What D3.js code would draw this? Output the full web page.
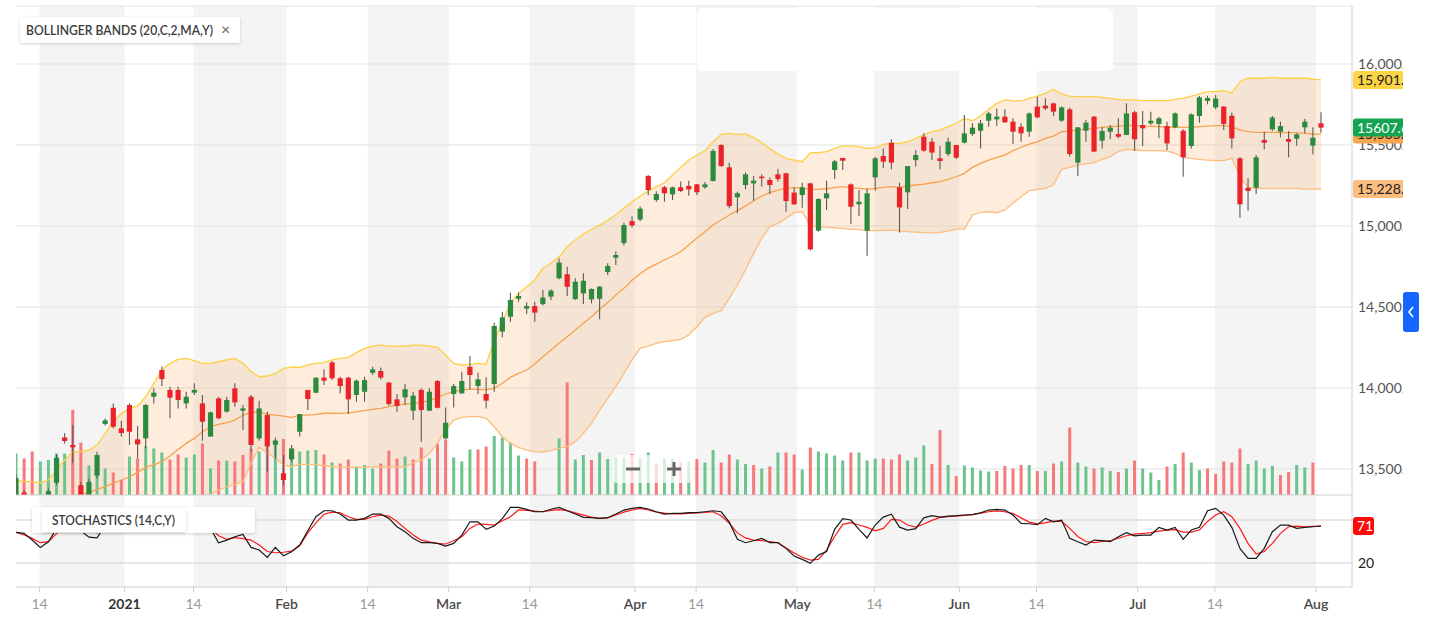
<!DOCTYPE html>
<html><head><meta charset="utf-8">
<script src="https://cdn.jsdelivr.net/npm/d3@7"></script>
<style>body{margin:0;background:#fff;}svg{display:block;font-family:Lato,"Open Sans",sans-serif;}</style>
</head><body><svg id="c" width="1429" height="620"></svg>
<script>
// ---------- DATA ----------
const startDate = "2020-12-09";
const holidays = ["2020-12-24","2020-12-25","2020-12-31","2021-01-01","2021-04-02","2021-04-05","2021-05-24"];

const open = [13300,13355,13280,13150,13250,13415,13695,13648,13400,13250,
13459,13778,13878,13751,13895,13683,13689,13946,14111,13988,
13988,13905,13971,13905,13700,13936,13854,13998,13860,13946,
13689,13833,13650,13473,13560,13730,13988,13971,14064,14158,
14060,14064,13957,13977,14094,14105,14033,13930,13942,13860,
13988,13860,14043,13689,13963,13967,14131,14012,13963,14025,
14348,14440,14551,14490,14506,14518,14564,14677,14702,14549,
14584,14547,14551,14716,14804,14895,15030,15040,15309,15160,
15239,15195,15239,15247,15257,15239,15278,15500,15362,15177,
15253,15263,15305,15284,15319,15325,15206,15191,15263,14971,
15171,15346,15420,15257,15134,14971,15300,15432,15514,15239,
15208,15407,15551,15520,15418,15444,15500,15514,15568,15588,
15650,15658,15675,15644,15613,15582,15737,15743,15757,15650,
15720,15391,15588,15675,15527,15582,15568,15562,15702,15623,
15634,15630,15617,15609,15588,15494,15679,15772,15732,15737,
15681,15418,15236,15236,15531,15597,15582,15537,15539,15609,
15496,15634];
const high = [13470,13370,13300,13260,13380,13590,13720,13771,13420,13440,
13607,13812,13905,13798,13905,13765,13901,13998,14132,14008,
14008,13977,14029,13957,13854,13946,13946,14029,13895,13957,
13922,13854,13695,13586,13648,13839,13988,14064,14115,14166,
14070,14070,14053,14070,14131,14127,14039,13963,14025,13977,
13998,13998,14049,13880,14025,14101,14197,14094,14066,14403,
14471,14588,14590,14529,14533,14605,14609,14800,14749,14677,
14708,14615,14630,14770,14842,15020,15060,15120,15315,15215,
15247,15243,15274,15280,15259,15271,15475,15504,15391,15212,
15331,15309,15319,15300,15354,15329,15239,15267,15267,15171,
15280,15407,15420,15263,15222,15232,15428,15479,15535,15267,
15370,15469,15572,15541,15494,15547,15500,15685,15634,15654,
15706,15726,15720,15665,15634,15700,15798,15788,15761,15737,
15732,15609,15654,15679,15609,15623,15665,15757,15712,15710,
15706,15675,15644,15700,15597,15695,15802,15804,15809,15741,
15700,15424,15294,15438,15582,15679,15644,15586,15572,15660,
15609,15702];
const low = [13285,13220,13090,13120,13230,13400,13658,13535,13130,13230,
13442,13768,13751,13700,13648,13566,13627,13905,14012,13813,
13874,13874,13957,13675,13700,13807,13848,13885,13741,13607,
13675,13483,13560,13401,13545,13700,13864,13967,14018,14050,
13967,13839,13915,13915,14080,14053,13891,13854,13895,13802,
13668,13858,13874,13683,13880,13963,13992,13963,13874,13977,
14313,14409,14533,14457,14409,14510,14543,14671,14568,14543,
14518,14523,14424,14697,14759,14880,14990,15030,15190,15150,
15150,15160,15210,15187,15191,15230,15274,15366,15109,15078,
15226,15156,15243,15197,15274,15088,15129,15113,14848,14965,
15099,15290,15346,15012,15062,14817,15218,15356,15350,14959,
15105,15366,15459,15407,15350,15432,15413,15510,15555,15479,
15613,15617,15638,15506,15520,15551,15665,15716,15679,15644,
15428,15309,15520,15459,15479,15535,15541,15562,15465,15494,
15623,15541,15469,15603,15304,15479,15638,15751,15720,15593,
15479,15051,15094,15197,15473,15588,15547,15424,15496,15572,
15442,15576];
const close = [13445,13296,13114,13223,13363,13570,13673,13634,13246,13420,
13586,13800,13761,13722,13730,13652,13895,13971,14055,13940,
13926,13946,13988,13792,13850,13813,13926,13911,13874,13648,
13874,13640,13675,13432,13627,13839,13932,14064,14045,14060,
14012,13930,14045,14049,14115,14064,13901,13889,13992,13953,
13864,13977,13878,13786,14012,14043,14080,14053,13922,14383,
14436,14543,14568,14506,14465,14558,14601,14774,14625,14656,
14662,14611,14625,14753,14821,15006,15003,15107,15222,15198,
15202,15239,15216,15226,15208,15257,15463,15370,15123,15202,
15319,15280,15296,15253,15290,15154,15134,15239,14856,15167,
15202,15399,15403,15119,15150,15202,15418,15397,15391,15115,
15370,15438,15465,15453,15401,15520,15422,15572,15607,15634,
15695,15675,15640,15582,15572,15695,15671,15726,15706,15732,
15444,15609,15638,15459,15586,15607,15551,15695,15535,15603,
15650,15665,15510,15695,15424,15689,15794,15790,15787,15630,
15541,15134,15216,15424,15514,15669,15617,15520,15566,15644,
15545,15607.6];
const volume = [83,73,87,67,70,83,83,170,105,59,
80,53,45,30,77,73,98,93,85,71,
81,75,81,103,53,69,69,67,80,93,
87,113,110,112,87,87,89,90,81,65,
63,71,57,60,53,63,89,73,77,71,
95,73,103,111,75,67,91,91,97,118,
115,105,79,73,67,0,0,113,225,71,
80,70,85,72,75,75,82,73,85,63,
73,73,65,67,72,65,90,65,81,71,
62,60,53,57,85,85,81,51,95,87,
83,79,69,85,85,69,73,73,71,81,
69,75,99,62,130,60,38,59,55,49,
47,48,58,53,60,60,48,48,63,67,
135,65,57,53,55,48,46,53,69,53,
45,30,57,62,85,65,50,53,42,67,
65,93,62,69,53,58,40,46,60,55,
65,0];
const bbUpper = [13428,13425,13420,13415,13432,13494,13555,13607,13607,13617,
13648,13720,13792,13844,13874,13889,13946,14029,14111,14152,
14177,14183,14169,14152,14152,14162,14173,14183,14152,14101,
14070,14074,14090,14121,14128,14128,14142,14152,14156,14173,
14183,14189,14218,14245,14259,14265,14259,14259,14259,14265,
14265,14259,14251,14204,14152,14142,14146,14152,14148,14290,
14410,14525,14584,14625,14667,14739,14770,14810,14872,14913,
14950,14980,15005,15035,15070,15110,15150,15185,15215,15243,
15267,15315,15362,15407,15438,15465,15520,15566,15572,15566,
15568,15547,15514,15479,15444,15418,15407,15397,15453,15453,
15459,15479,15494,15494,15490,15479,15483,15504,15510,15510,
15520,15541,15562,15582,15592,15613,15634,15664,15650,15679,
15720,15757,15778,15774,15772,15788,15802,15819,15844,15815,
15802,15798,15798,15798,15794,15788,15782,15778,15778,15774,
15774,15774,15774,15782,15788,15802,15815,15829,15829,15835,
15823,15891,15912,15912,15912,15918,15912,15912,15912,15912,
15907,15901.9];
const bbMiddle = [13200,13210,13215,13220,13230,13260,13290,13330,13345,13354,
13374,13391,13411,13432,13452,13479,13510,13525,13545,13580,
13621,13658,13689,13730,13761,13776,13786,13802,13833,13848,
13854,13839,13833,13827,13819,13833,13833,13837,13844,13844,
13843,13847,13852,13860,13868,13874,13885,13895,13901,13905,
13911,13922,13942,13963,13977,13988,13992,13992,13988,13998,
14029,14066,14090,14111,14148,14193,14234,14276,14317,14358,
14399,14440,14486,14527,14574,14615,14665,14705,14740,14765,
14790,14815,14841,14883,14924,14965,15006,15037,15068,15095,
15123,15156,15185,15206,15222,15232,15239,15232,15226,15226,
15230,15237,15243,15237,15232,15228,15232,15239,15243,15239,
15247,15253,15259,15267,15274,15288,15304,15325,15362,15387,
15407,15424,15438,15465,15486,15506,15520,15541,15555,15582,
15586,15592,15599,15603,15609,15613,15617,15621,15621,15617,
15615,15613,15611,15609,15609,15609,15613,15617,15619,15619,
15613,15592,15582,15578,15578,15578,15576,15576,15576,15572,
15568,15565.3];
const bbLower = [12980,12990,12995,13000,13010,13020,13025,13030,13060,13080,
13090,13080,13070,13060,13050,13060,13070,13060,13050,13060,
13100,13160,13230,13310,13345,13370,13391,13405,13422,13535,
13634,13597,13566,13525,13514,13529,13529,13525,13520,13514,
13512,13510,13510,13510,13514,13514,13514,13514,13514,13539,
13555,13597,13658,13741,13802,13819,13823,13823,13813,13761,
13699,13658,13633,13617,13607,13605,13613,13627,13638,13669,
13720,13782,13864,13936,14008,14090,14173,14245,14259,14276,
14286,14292,14300,14327,14378,14436,14461,14477,14553,14636,
14728,14831,14924,14996,15016,15047,15082,15088,15000,14996,
14992,14988,14984,14981,14978,14971,14971,14973,14975,14970,
14965,14962,14959,14958,14959,14970,14981,14981,15068,15084,
15088,15082,15099,15140,15181,15218,15226,15232,15253,15350,
15362,15376,15383,15391,15411,15428,15459,15473,15469,15465,
15465,15465,15463,15449,15424,15418,15411,15407,15403,15403,
15418,15304,15239,15232,15232,15232,15232,15232,15232,15228,
15228,15228.4];
const stochK = [62.8,61.4,52,41.8,49.7,68,80,78,65,56,
55,72,82,80,78,72,80,88,92,85,
80,78,80,68,68,48.3,52,56.6,60,41.8,
38.1,27.9,41.8,30.1,35.7,45,65,84.5,92.9,92.9,
88.3,79.9,79.9,82.3,88.3,88.3,82.3,70.6,63.6,54.4,
48.3,48.3,47.4,43.7,47.4,59,77.5,77.5,66.9,71.5,
82,97.6,97.6,94.8,91.5,91.5,95,97.6,92.9,88.3,
83.7,83.2,82.3,83.2,88.3,93.9,96.2,97.6,95.3,91.5,
88.3,89.2,89.2,90.2,90.2,91.5,92.9,91.5,77,53,
48.3,51.1,54.4,48.3,48.3,40.4,29.7,25,19.5,31,
36,67,82,80,67,55,73,84,88,70,
66,68,83,86,84,85.5,86,87,87.5,90,
93.9,94.8,93.9,86.9,75.3,74.8,73.4,82.3,77.5,79.9,
54.4,49.7,45,52,51.1,49.7,56.6,62.2,58,59,
59,69.7,66,69.7,53,66,69.7,92.9,96.2,86.9,
69.7,40.4,26.5,26.5,40.4,63.6,72.9,72.9,68.3,69.7,
70.6,71.6];
const stochD = [62.8,59,54.4,48.3,49.7,61,70,76,74,66,
62,66,72,78,80,77,77,80,87,88,
86,81,79,75,68,58,53,55.3,54,52,
45,36,34.3,35,36.5,44,62,76,88,91,
90.1,84.5,80.8,80.8,84.5,86.9,85.5,78,68.3,59,
52,49.5,47.4,46.5,51,56.6,68.3,74.3,73.9,72.9,
79,84.5,94,93.5,92.5,91.5,93.5,94.5,93,90,
86.9,84,82.3,83,86.9,91,94,96.2,94,91,
89.5,88.5,88.5,89.2,89.8,90.5,91.5,86,75.3,62,
55,52,51.1,50,48.3,41,34,28,24.1,25,
38,57,74,76.2,73,69.7,65,68.3,80.8,79.9,
73,70,74.5,79.5,83.7,84.5,85.5,86.5,87.5,89.5,
91.5,92.8,91.5,89,83,77,74.5,76,78.5,78,
68.3,57,50,48.5,50,51.1,54.5,58,60.4,61.2,
62.5,64.5,66,66.5,63.2,63.2,66,78,87,91.5,
84.5,68.3,47.4,32.5,36,47.4,61.4,70.6,71.5,70.6,
71,71.5];

const priceTicks = [13500,14000,14500,15000,15500,16000];
const stochLevels = [20,80];
const stochLabels = [20];
const xTickLabels = ["14","2021","14","Feb","14","Mar","14","Apr","14","May","14","Jun","14","Jul","14","Aug"];
const xTickDates = ["2020-12-14","2021-01-01","2021-01-14","2021-02-01","2021-02-14","2021-03-01","2021-03-14","2021-04-01","2021-04-14","2021-05-01","2021-05-14","2021-06-01","2021-06-14","2021-07-01","2021-07-14","2021-08-01"];
const badgeTexts = {upper:"15,901.93", middle:"15,565.30", last:"15607.6", lower:"15,228.41", stoch:"71"};
const legendMain = "BOLLINGER BANDS (20,C,2,MA,Y)";
const legendStoch = "STOCHASTICS (14,C,Y)";

// ---------- LAYOUT ----------
const W=1429, H=620, L=16, R=1352, T=6, MB=495, SB=587, CLIPX=1403;
const n = close.length;

// trading dates
const dates=[]; {let d=new Date(startDate+"T00:00:00Z");
 while(dates.length<n){const iso=d.toISOString().slice(0,10);const w=d.getUTCDay();
  if(w!==0&&w!==6&&!holidays.includes(iso)) dates.push(iso); d=new Date(d.getTime()+86400000);}}

const svg=d3.select("#c");
const x=d3.scaleLinear().domain([0,n-1]).range([16,1321]);
const y=d3.scaleLinear().domain([13500,16000]).range([469,64]);
const yv=d3.scaleLinear().domain([0,250]).range([MB,370]);
const ys=d3.scaleLinear().domain([20,80]).range([563,520]);

const defs=svg.append("defs");
defs.append("clipPath").attr("id","cm").append("rect").attr("x",L).attr("y",T).attr("width",R-L).attr("height",MB-T);
defs.append("clipPath").attr("id","cs").append("rect").attr("x",L).attr("y",MB).attr("width",R-L).attr("height",SB-MB);
defs.append("clipPath").attr("id","cr").append("rect").attr("x",R).attr("y",0).attr("width",CLIPX-R).attr("height",H);
const f=defs.append("filter").attr("id","sh").attr("x","-10%").attr("y","-40%").attr("width","120%").attr("height","180%");
f.append("feDropShadow").attr("dx",0).attr("dy",1).attr("stdDeviation",1.6).attr("flood-color","#000").attr("flood-opacity",0.18);

svg.append("rect").attr("width",W).attr("height",H).attr("fill","#fff");

// tick positions
const tickX = xTickDates.map(td=>{const idx=dates.findIndex(d=>d>=td);
  const exact = dates[idx]===td && td.endsWith("-14");
  return x(idx + (exact?-0.1:-0.62));});

// stripes
for(let k=0;k+1<tickX.length;k+=2){
  svg.append("rect").attr("x",tickX[k]).attr("y",T).attr("width",tickX[k+1]-tickX[k]).attr("height",SB-T).attr("fill","#f4f4f4");
}
// gridlines
svg.append("line").attr("x1",L).attr("x2",R).attr("y1",T).attr("y2",T).attr("stroke","#e4e4e4");
svg.selectAll(".g").data(priceTicks).join("line").attr("x1",L).attr("x2",R)
  .attr("y1",d=>y(d)).attr("y2",d=>y(d)).attr("stroke","#e2e2e2");
// redacted blank area at top
svg.append("rect").attr("x",697).attr("y",8).attr("width",416).attr("height",63).attr("rx",6).attr("fill","#fff");

// main panel
const gm=svg.append("g").attr("clip-path","url(#cm)");
gm.append("path").datum(d3.range(n)).attr("fill","#f8a14e").attr("fill-opacity",0.2)
  .attr("d",d3.area().x(i=>x(i)).y0(i=>y(bbLower[i])).y1(i=>y(bbUpper[i])));
gm.selectAll(".v").data(d3.range(n).filter(i=>volume[i]>0)).join("rect")
  .attr("x",i=>x(i)-1.5).attr("width",3).attr("y",i=>yv(volume[i])).attr("height",i=>MB-yv(volume[i]))
  .attr("fill",i=>(i===0||close[i]>=close[i-1])?"#6cc48d":"#f77a7a");
const line=arr=>d3.line().x(i=>x(i)).y(i=>y(arr[i]));
gm.append("path").datum(d3.range(n)).attr("fill","none").attr("stroke","#fdbd7e").attr("stroke-width",1.3).attr("d",line(bbLower));
gm.append("path").datum(d3.range(n)).attr("fill","none").attr("stroke","#f6a24e").attr("stroke-width",1.3).attr("d",line(bbMiddle));
gm.append("path").datum(d3.range(n)).attr("fill","none").attr("stroke","#fdd044").attr("stroke-width",1.3).attr("d",line(bbUpper));
const cg=gm.selectAll(".c").data(d3.range(n)).join("g");
cg.append("line").attr("x1",i=>x(i)).attr("x2",i=>x(i)).attr("y1",i=>y(high[i])).attr("y2",i=>y(low[i]))
  .attr("stroke","#5b5b55").attr("stroke-width",1.1);
cg.append("rect").attr("x",i=>x(i)-2.6).attr("width",5.2)
  .attr("y",i=>y(Math.max(open[i],close[i])))
  .attr("height",i=>Math.max(1.6,Math.abs(y(open[i])-y(close[i]))))
  .attr("fill",i=>close[i]>=open[i]?"#2b8a3e":"#ec2229");

// stochastics panel
svg.selectAll(".sg").data(stochLevels).join("line").attr("x1",L).attr("x2",R)
  .attr("y1",d=>ys(d)).attr("y2",d=>ys(d)).attr("stroke","#d0d0d0");
const gs=svg.append("g").attr("clip-path","url(#cs)");
gs.append("path").datum(d3.range(n)).attr("fill","none").attr("stroke","#ff1a1a").attr("stroke-width",1.2)
  .attr("d",d3.line().x(i=>x(i)).y(i=>ys(stochD[i])));
gs.append("path").datum(d3.range(n)).attr("fill","none").attr("stroke","#1a1a1a").attr("stroke-width",1.2)
  .attr("d",d3.line().x(i=>x(i)).y(i=>ys(stochK[i])));

// axes frame
svg.append("line").attr("x1",L).attr("x2",R).attr("y1",MB).attr("y2",MB).attr("stroke","#cfcfcf");
svg.append("line").attr("x1",L).attr("x2",R).attr("y1",SB).attr("y2",SB).attr("stroke","#cfcfcf");
svg.append("line").attr("x1",R).attr("x2",R).attr("y1",T).attr("y2",SB).attr("stroke","#cfcfcf");

// x ticks
xTickLabels.forEach((lab,k)=>{
  svg.append("line").attr("x1",tickX[k]).attr("x2",tickX[k]).attr("y1",SB).attr("y2",SB+5).attr("stroke","#cfcfcf");
  const isYear=/^\d{4}$/.test(lab), isDay=/^\d{1,2}$/.test(lab);
  svg.append("text").attr("x",tickX[k]).attr("y",609).attr("text-anchor","middle")
    .attr("font-size",14).attr("font-weight",isYear?700:(isDay?400:600))
    .attr("fill",isYear?"#333":(isDay?"#9a9a9a":"#4a4a4a")).text(lab);
});

// right axis labels and badges
const gr=svg.append("g").attr("clip-path","url(#cr)");
const fmt=d3.format(",.2f");
priceTicks.forEach(t=>{
  gr.append("text").attr("x",R+6).attr("y",y(t)+5).attr("font-size",14).attr("fill","#555").text(fmt(t));
});
stochLabels.forEach(t=>{
  gr.append("text").attr("x",R+6).attr("y",ys(t)+5).attr("font-size",14).attr("fill","#222").text(t);
});
function badge(val,txt,fill,col,yy,w){
  gr.append("rect").attr("x",R+1).attr("y",yy-9).attr("width",w||70).attr("height",18).attr("rx",3).attr("fill",fill);
  gr.append("text").attr("x",R+5).attr("y",yy+5).attr("font-size",14).attr("fill",col).text(txt);
}
badge(15901.9,badgeTexts.upper,"#fdd544","#222",y(bbUpper[n-1]));
badge(15565.3,badgeTexts.middle,"#f7a650","#222",y(bbMiddle[n-1]));
badge(15607.6,badgeTexts.last,"#14a451","#fff",y(close[n-1]));
badge(15228.4,badgeTexts.lower,"#fdbd7e","#222",y(bbLower[n-1]));
badge(71,badgeTexts.stoch,"#ff0a0a","#fff",ys(stochK[n-1]),21);

// blue side button
svg.append("rect").attr("x",1403).attr("y",292).attr("width",16).attr("height",40).attr("rx",3).attr("fill","#1565ff");
svg.append("path").attr("d","M1413,307 L1409,312 L1413,317").attr("fill","none").attr("stroke","#fff").attr("stroke-width",1.6);

// legends
svg.append("rect").attr("x",20).attr("y",17).attr("width",220).attr("height",26).attr("rx",3).attr("fill","#fff").attr("filter","url(#sh)");
svg.append("text").attr("x",26).attr("y",35).attr("font-size",12.5).attr("font-weight",600).attr("fill","#3a3a3a")
  .attr("textLength",187).attr("lengthAdjust","spacingAndGlyphs").text(legendMain);
svg.append("text").attr("x",221).attr("y",35).attr("font-size",16).attr("fill","#666").text("×");

svg.append("rect").attr("x",32).attr("y",507).attr("width",223).attr("height",26).attr("rx",3).attr("fill","#fff").attr("filter","url(#sh)");
svg.append("rect").attr("x",42).attr("y",508).attr("width",144).attr("height",24).attr("rx",3).attr("fill","#fff").attr("filter","url(#sh)");
svg.append("text").attr("x",52).attr("y",525).attr("font-size",12.5).attr("font-weight",600).attr("fill","#3a3a3a")
  .attr("textLength",123).attr("lengthAdjust","spacingAndGlyphs").text(legendStoch);

// zoom control
svg.append("rect").attr("x",613).attr("y",455).attr("width",80).attr("height",28).attr("rx",4).attr("fill","#fff").attr("fill-opacity",0.72);
svg.append("line").attr("x1",626).attr("x2",640).attr("y1",469).attr("y2",469).attr("stroke","#666").attr("stroke-width",3);
svg.append("line").attr("x1",667).attr("x2",681).attr("y1",469).attr("y2",469).attr("stroke","#666").attr("stroke-width",3);
svg.append("line").attr("x1",674).attr("x2",674).attr("y1",462).attr("y2",476).attr("stroke","#666").attr("stroke-width",3);
</script></body></html>
